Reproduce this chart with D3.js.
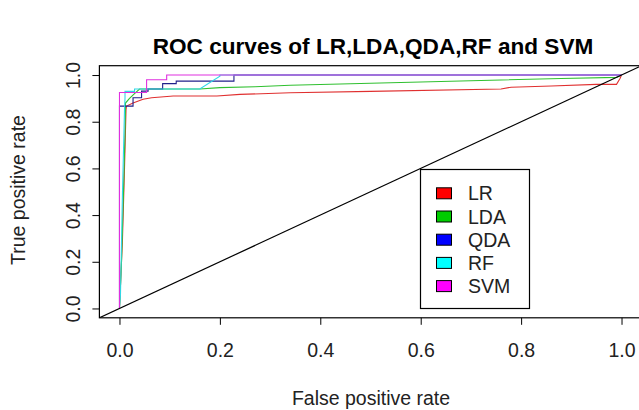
<!DOCTYPE html>
<html>
<head>
<meta charset="utf-8">
<script src="https://cdn.jsdelivr.net/npm/d3@7"></script>
<style>
  body { margin: 0; background: #fff; }
  svg { font-family: "Liberation Sans", Arial, sans-serif; }
</style>
</head>
<body>
<div id="chart"></div>
<script>
// ROC curve points: [false positive rate, true positive rate]
const lrPoints = [[0,0],[0.006,0.3],[0.01,0.6],[0.013,0.85],[0.014,0.867],[0.027,0.88],[0.047,0.896],[0.064,0.903],[0.107,0.91],[0.194,0.91],[0.24,0.917],[0.34,0.924],[0.5,0.93],[0.76,0.94],[0.78,0.948],[0.86,0.953],[0.95,0.96],[0.99,0.96],[0.997,0.985],[1,1]];
const ldaPoints = [[0,0],[0.004,0.2],[0.008,0.5],[0.011,0.75],[0.012,0.88],[0.02,0.9],[0.03,0.92],[0.04,0.94],[0.16,0.94],[0.2,0.946],[0.27,0.95],[0.34,0.956],[0.5,0.965],[0.76,0.979],[0.88,0.985],[0.99,0.99],[1,1]];
const qdaPoints = [[0,0],[0,0.867],[0.027,0.867],[0.027,0.903],[0.044,0.903],[0.044,0.931],[0.057,0.931],[0.057,0.94],[0.086,0.94],[0.086,0.963],[0.113,0.963],[0.113,0.974],[0.228,0.974],[0.228,1],[1,1]];
const rfPoints = [[0,0],[0.002,0.06],[0.006,0.5],[0.01,0.85],[0.011,0.9],[0.011,0.93],[0.03,0.93],[0.03,0.94],[0.16,0.94],[0.2,0.995],[0.2,1],[1,1]];
const svmPoints = [[0,0],[0,0.925],[0.054,0.925],[0.054,0.98],[0.094,0.98],[0.094,1],[1,1]];

const seriesNames = ["LR", "LDA", "QDA", "RF", "SVM"];
const seriesColors = ["#ff0000", "#00cd00", "#0000ff", "#00ffff", "#ff00ff"];
const lineColors = ["#e03030", "#30c030", "#20208a", "#30d8e8", "#e030e0"];
const tickValues = [0, 0.2, 0.4, 0.6, 0.8, 1.0];

const allSeries = [lrPoints, ldaPoints, qdaPoints, rfPoints, svmPoints];

const width = 639, height = 410;
const plotLeft = 99.4, plotRight = 641.6, plotTop = 65.7, plotBottom = 317.8;
const baseFont = "19.5px";

const svg = d3.select("#chart").append("svg")
  .attr("width", width)
  .attr("height", height);

// R style scales: data range 0..1 padded by 4%
const x = d3.scaleLinear().domain([-0.04, 1.04]).range([plotLeft, plotRight]);
const y = d3.scaleLinear().domain([-0.04, 1.04]).range([plotBottom, plotTop]);

svg.append("clipPath").attr("id", "plotclip")
  .append("rect")
  .attr("x", plotLeft).attr("y", plotTop)
  .attr("width", plotRight - plotLeft).attr("height", plotBottom - plotTop);

const plot = svg.append("g").attr("clip-path", "url(#plotclip)");

const line = d3.line().x(d => x(d[0])).y(d => y(d[1]));

allSeries.forEach((pts, i) => {
  plot.append("path")
    .datum(pts)
    .attr("d", line)
    .attr("fill", "none")
    .attr("stroke", lineColors[i])
    .attr("stroke-width", 1.1);
});

// diagonal reference line
plot.append("path")
  .datum([[-0.04, -0.04], [1.04, 1.04]])
  .attr("d", line)
  .attr("fill", "none")
  .attr("stroke", "#000")
  .attr("stroke-width", 1.2);

// box
svg.append("rect")
  .attr("x", plotLeft).attr("y", plotTop)
  .attr("width", plotRight - plotLeft).attr("height", plotBottom - plotTop)
  .attr("fill", "none")
  .attr("stroke", "#000")
  .attr("stroke-width", 1.2);

// x axis
const xAxis = svg.append("g")
  .attr("transform", `translate(0,${plotBottom})`)
  .call(d3.axisBottom(x).tickValues(tickValues).tickSize(7).tickFormat(d3.format(".1f")));
xAxis.select(".domain").remove();
xAxis.selectAll("line").attr("stroke", "#000");
xAxis.selectAll("text")
  .attr("y", 39).attr("dy", null)
  .style("font-size", baseFont)
  .style("font-family", "Liberation Sans, Arial, sans-serif")
  .attr("fill", "#222");

// y axis (labels parallel to the axis)
const yAxis = svg.append("g")
  .attr("transform", `translate(${plotLeft},0)`)
  .call(d3.axisLeft(y).tickValues(tickValues).tickSize(7).tickFormat(d3.format(".1f")));
yAxis.select(".domain").remove();
yAxis.selectAll("line").attr("stroke", "#000");
yAxis.selectAll("text")
  .attr("x", null).attr("dy", null)
  .attr("text-anchor", "middle")
  .attr("transform", "translate(-19.5,0) rotate(-90)")
  .style("font-size", baseFont)
  .style("font-family", "Liberation Sans, Arial, sans-serif")
  .attr("fill", "#222");

// title
svg.append("text")
  .attr("x", 373)
  .attr("y", 54)
  .attr("text-anchor", "middle")
  .style("font-size", "22.6px")
  .style("font-weight", "bold")
  .text("ROC curves of LR,LDA,QDA,RF and SVM");

// axis titles
svg.append("text")
  .attr("x", 371)
  .attr("y", 405)
  .attr("text-anchor", "middle")
  .style("font-size", baseFont)
  .attr("fill", "#222")
  .text("False positive rate");

svg.append("text")
  .attr("transform", `translate(25,190) rotate(-90)`)
  .attr("text-anchor", "middle")
  .style("font-size", baseFont)
  .attr("fill", "#222")
  .text("True positive rate");

// legend
const legend = svg.append("g");
legend.append("rect")
  .attr("x", 420.5).attr("y", 169.5)
  .attr("width", 109).attr("height", 139)
  .attr("fill", "#fff")
  .attr("stroke", "#000")
  .attr("stroke-width", 1.2);

seriesNames.forEach((name, i) => {
  const cy = 193.3 + i * 23.2;
  legend.append("rect")
    .attr("x", 436.5).attr("y", cy - 5.5)
    .attr("width", 15).attr("height", 11)
    .attr("fill", seriesColors[i])
    .attr("stroke", "#000")
    .attr("stroke-width", 1);
  legend.append("text")
    .attr("x", 468)
    .attr("y", cy + 7)
    .style("font-size", baseFont)
    .attr("fill", "#222")
    .text(name);
});
</script>
</body>
</html>
